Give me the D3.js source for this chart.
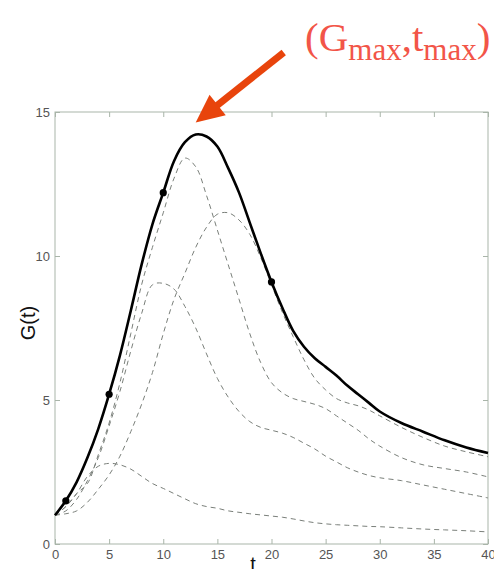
<!DOCTYPE html>
<html>
<head>
<meta charset="utf-8">
<script src="https://cdn.jsdelivr.net/npm/d3@7"></script>
<style>
  body { margin: 0; background: #fff; }
  .tick text { font-family: "Liberation Sans", Arial, sans-serif; font-size: 13px; fill: #555; }
  .tick line { stroke: #a9b5a9; }
  .axis path.domain { display: none; }
</style>
</head>
<body>
<svg id="chart"></svg>
<script>
// time grid shared by every curve
const times = [0,1,2,3,4,5,6,7,8,9,10,11,12,13,14,15,16,17,18,19,20,
               21,22,23,24,25,26,27,28,29,30,32,34,36,38,40];

// total G(t) (solid)
const totalG = [1.0,1.5,2.15,3.0,4.0,5.2,6.55,8.1,9.7,11.1,12.2,13.3,13.95,14.22,14.15,13.8,13.05,12.2,11.15,10.1,9.1,
                8.2,7.4,6.85,6.45,6.15,5.85,5.5,5.2,4.9,4.6,4.2,3.9,3.6,3.35,3.16];

// component curves (dashed)
const curveA = [1.0,1.3,1.75,2.35,2.7,2.8,2.75,2.6,2.35,2.1,1.93,1.75,1.57,1.4,1.3,1.24,1.15,1.1,1.05,1.01,0.97,
                0.93,0.87,0.8,0.74,0.7,0.67,0.65,0.63,0.61,0.6,0.56,0.52,0.49,0.46,0.42];
const curveB = [1.0,1.15,1.55,2.2,3.0,4.1,5.3,6.7,8.0,9.0,9.05,8.85,8.25,7.5,6.6,5.75,5.1,4.6,4.25,4.05,3.95,
                3.85,3.7,3.5,3.3,3.05,2.85,2.65,2.5,2.38,2.3,2.2,2.05,1.9,1.75,1.6];
const curveC = [1.0,1.05,1.15,1.45,1.9,2.4,3.05,3.9,4.85,5.95,7.3,8.5,9.4,10.3,11.0,11.45,11.5,11.25,10.75,9.95,9.0,
                8.05,7.2,6.4,5.75,5.35,5.05,4.9,4.8,4.65,4.45,4.05,3.7,3.4,3.2,3.03];
const curveE = [1.0,1.3,1.75,2.1,3.1,4.2,5.6,7.3,9.0,10.3,11.5,12.7,13.4,13.1,12.1,10.9,9.7,8.5,7.3,6.3,5.6,
                5.25,5.05,4.95,4.85,4.7,4.45,4.2,3.95,3.65,3.4,3.0,2.75,2.62,2.5,2.33];

// sampled points marked on the solid curve
const sampleTimes = [1, 5, 10, 20];

const xTicks = [0,5,10,15,20,25,30,35,40];
const yTicks = [0,5,10,15];

class GrowthChart {
    constructor(_config) {
        this.config = {
            parentElement: _config.parentElement,
            containerWidth: _config.containerWidth || 494,
            containerHeight: _config.containerHeight || 569,
            margin: _config.margin || { top: 112, right: 6, bottom: 25, left: 55 }
        };
        this.initVis();
    }

    initVis() {
        let vis = this;
        vis.width = vis.config.containerWidth - vis.config.margin.left - vis.config.margin.right;
        vis.height = vis.config.containerHeight - vis.config.margin.top - vis.config.margin.bottom;

        vis.xScale = d3.scaleLinear().domain([0, 40]).range([0, vis.width]);
        vis.yScale = d3.scaleLinear().domain([0, 15]).range([vis.height, 0]);

        vis.svg = d3.select(vis.config.parentElement)
            .attr('width', vis.config.containerWidth)
            .attr('height', vis.config.containerHeight);

        vis.chart = vis.svg.append('g')
            .attr('transform', `translate(${vis.config.margin.left},${vis.config.margin.top})`);

        // axes box, matlab style (ticks pointing inwards)
        vis.chart.append('rect')
            .attr('width', vis.width)
            .attr('height', vis.height)
            .attr('fill', 'none')
            .attr('stroke', '#a9b5a9')
            .attr('stroke-width', 1);

        vis.chart.append('g')
            .attr('class', 'axis x-axis')
            .attr('transform', `translate(0,${vis.height})`)
            .call(d3.axisBottom(vis.xScale).tickValues(xTicks).tickSize(-5).tickPadding(6).tickFormat(d => d));
        vis.chart.append('g')
            .attr('class', 'axis')
            .call(d3.axisTop(vis.xScale).tickValues(xTicks).tickSize(-5).tickFormat(''));
        vis.chart.append('g')
            .attr('class', 'axis y-axis')
            .call(d3.axisLeft(vis.yScale).tickValues(yTicks).tickSize(-5).tickPadding(5).tickFormat(d => d));
        vis.chart.append('g')
            .attr('class', 'axis')
            .attr('transform', `translate(${vis.width},0)`)
            .call(d3.axisRight(vis.yScale).tickValues(yTicks).tickSize(-5).tickFormat(''));

        // axis labels
        vis.svg.append('text')
            .attr('text-anchor', 'middle')
            .attr('transform', 'translate(35,323) rotate(-90)')
            .style('font-family', '"Liberation Sans", Arial, sans-serif')
            .style('font-size', '20px')
            .attr('fill', '#111')
            .text('G(t)');

        vis.svg.append('text')
            .attr('text-anchor', 'middle')
            .attr('x', 253)
            .attr('y', 571)
            .style('font-family', '"Liberation Sans", Arial, sans-serif')
            .style('font-size', '20px')
            .attr('fill', '#111')
            .text('t');

        vis.marks = vis.chart.append('g');
        vis.annot = vis.svg.append('g');
    }

    updateVis() {
        let vis = this;
        vis.line = d3.line()
            .x(d => vis.xScale(d[0]))
            .y(d => vis.yScale(d[1]))
            .curve(d3.curveCatmullRom.alpha(0.5));

        vis.dashed = [curveA, curveB, curveC, curveE].map(s => times.map((t, i) => [t, s[i]]));
        vis.solid = times.map((t, i) => [t, totalG[i]]);
        vis.samples = sampleTimes.map(t => [t, totalG[times.indexOf(t)]]);
        vis.peak = vis.solid[d3.maxIndex(vis.solid, d => d[1])];
        vis.renderVis();
    }

    renderVis() {
        let vis = this;

        vis.marks.selectAll('.comp-line')
            .data(vis.dashed)
            .join('path')
            .attr('class', 'comp-line')
            .attr('d', vis.line)
            .attr('fill', 'none')
            .attr('stroke', '#7a7f7a')
            .attr('stroke-width', 1)
            .attr('stroke-dasharray', '5,4');

        vis.marks.selectAll('.total-line')
            .data([vis.solid])
            .join('path')
            .attr('class', 'total-line')
            .attr('d', vis.line)
            .attr('fill', 'none')
            .attr('stroke', '#000')
            .attr('stroke-width', 2.6);

        vis.marks.selectAll('.sample')
            .data(vis.samples)
            .join('circle')
            .attr('class', 'sample')
            .attr('cx', d => vis.xScale(d[0]))
            .attr('cy', d => vis.yScale(d[1]))
            .attr('r', 3.6)
            .attr('fill', '#000');

        // arrow pointing at the peak
        const tipX = vis.config.margin.left + vis.xScale(vis.peak[0]);
        const tipY = vis.config.margin.top + vis.yScale(vis.peak[1]) - 12;
        const startX = tipX + 88, startY = tipY - 70;
        const len = Math.hypot(startX - tipX, startY - tipY);
        const ux = (tipX - startX) / len, uy = (tipY - startY) / len;
        const headLen = 28, headW = 13;
        const bx = tipX - ux * headLen, by = tipY - uy * headLen;

        vis.annot.append('line')
            .attr('x1', startX).attr('y1', startY)
            .attr('x2', bx + ux * 2).attr('y2', by + uy * 2)
            .attr('stroke', '#e8440c')
            .attr('stroke-width', 7);
        vis.annot.append('polygon')
            .attr('points', [[tipX, tipY], [bx - uy * headW, by + ux * headW], [bx + uy * headW, by - ux * headW]]
                .map(p => p.join(',')).join(' '))
            .attr('fill', '#e8440c');

        const label = vis.annot.append('text')
            .attr('x', 305)
            .attr('y', 51)
            .style('font-family', '"Liberation Serif", "Times New Roman", serif')
            .style('font-size', '41px')
            .attr('fill', '#f25548');
        label.append('tspan').text('(G');
        label.append('tspan').attr('dy', 9).style('font-size', '31px').text('max');
        label.append('tspan').attr('dy', -9).text(',t');
        label.append('tspan').attr('dy', 9).style('font-size', '31px').text('max');
        label.append('tspan').attr('dy', -9).text(')');
    }
}

const chart = new GrowthChart({ parentElement: '#chart' });
chart.updateVis();
</script>
</body>
</html>
